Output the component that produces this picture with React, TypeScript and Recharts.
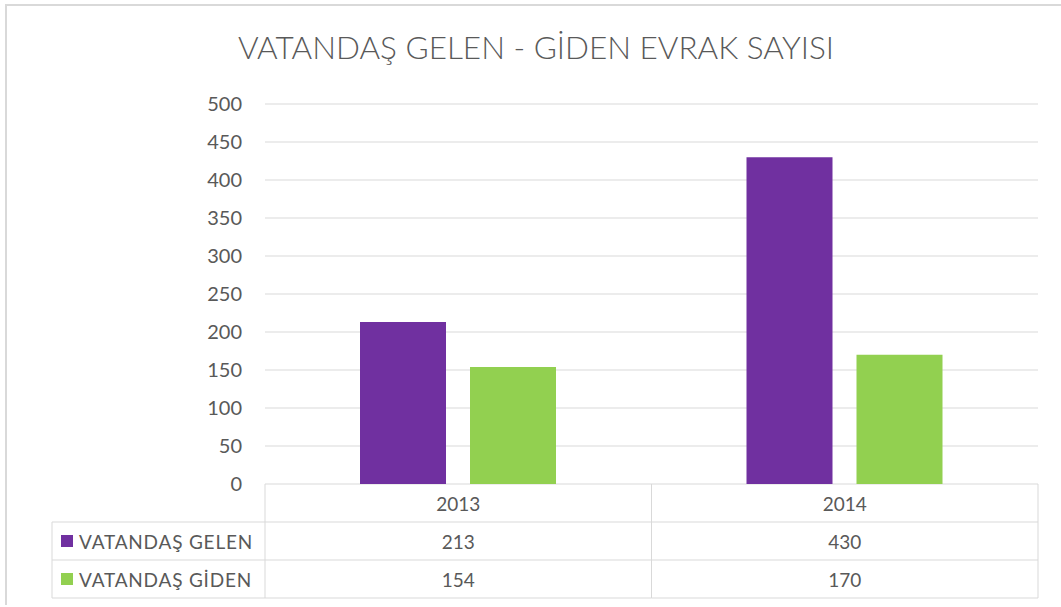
import React from "react";
import { BarChart, Bar, XAxis, YAxis, CartesianGrid } from "recharts";

const years = ["2013", "2014"];
const gelen = [213, 430];
const giden = [154, 170];
const yTicks = [0, 50, 100, 150, 200, 250, 300, 350, 400, 450, 500];

const seriesNames = ["VATANDAŞ GELEN", "VATANDAŞ GİDEN"];
const seriesColors = ["#7030A0", "#92D050"];

const data = years.map((year, i) => ({ year, gelen: gelen[i], giden: giden[i] }));

const W = 1061;
const H = 607;
const M = { top: 104, right: 23, bottom: 0, left: 0 };
const XAXIS_H = 123;
const AXIS_W = 265;
const PLOT_W = W - AXIS_W - M.right;
const PLOT_BOTTOM = H - XAXIS_H;
const ROW_H = 38;
const TABLE_LEFT = 52;
const FONT = "Lato, 'Open Sans', sans-serif";
const TEXT = "#595959";
const LINE = "#d9d9d9";

function TableTick(props: any) {
  const { x, payload, index } = props;
  const bw = PLOT_W / years.length;
  const left = x - bw / 2;
  const right = x + bw / 2;
  const y0 = PLOT_BOTTOM;
  const rows = [gelen, giden];
  return (
    <g fontFamily={FONT} fill={TEXT}>
      <line x1={left} x2={left} y1={y0} y2={y0 + ROW_H * 3} stroke={LINE} />
      <line x1={right} x2={right} y1={y0} y2={y0 + ROW_H * 3} stroke={LINE} />
      {[1, 2, 3].map((r) => (
        <line key={r} x1={left} x2={right} y1={y0 + ROW_H * r} y2={y0 + ROW_H * r} stroke={LINE} />
      ))}
      <text x={x} y={y0 + ROW_H / 2} textAnchor="middle" dominantBaseline="central" fontSize={19}>
        {payload.value}
      </text>
      {rows.map((vals, r) => (
        <text
          key={r}
          x={x}
          y={y0 + ROW_H * (r + 1) + ROW_H / 2}
          textAnchor="middle"
          dominantBaseline="central"
          fontSize={19}
        >
          {vals[index]}
        </text>
      ))}
      {index === 0 && (
        <g>
          <line x1={TABLE_LEFT} x2={left} y1={y0 + ROW_H} y2={y0 + ROW_H} stroke={LINE} />
          <line x1={TABLE_LEFT} x2={left} y1={y0 + ROW_H * 2} y2={y0 + ROW_H * 2} stroke={LINE} />
          <line x1={TABLE_LEFT} x2={left} y1={y0 + ROW_H * 3} y2={y0 + ROW_H * 3} stroke={LINE} />
          <line x1={TABLE_LEFT} x2={TABLE_LEFT} y1={y0 + ROW_H} y2={y0 + ROW_H * 3} stroke={LINE} />
          {seriesNames.map((name, r) => {
            const cy = y0 + ROW_H * (r + 1) + ROW_H / 2;
            return (
              <g key={name}>
                <rect x={61} y={cy - 6} width={12} height={12} fill={seriesColors[r]} />
                <text x={79} y={cy} dominantBaseline="central" fontSize={19} letterSpacing={0.8}>
                  {name}
                </text>
              </g>
            );
          })}
        </g>
      )}
    </g>
  );
}

export default function App() {
  return (
    <div style={{ position: "absolute", left: 0, top: 0, width: W, height: H, background: "#fff" }}>
      <div
        style={{
          position: "absolute",
          left: 5,
          top: 4,
          right: 0,
          bottom: 2,
          borderTop: `2px solid ${LINE}`,
          borderLeft: `2px solid ${LINE}`,
        }}
      />
      <div
        style={{
          position: "absolute",
          left: 0,
          width: 1072,
          top: 28,
          textAlign: "center",
          fontFamily: FONT,
          fontSize: 31.5,
          fontWeight: 300,
          color: TEXT,
          whiteSpace: "nowrap",
        }}
      >
        VATANDAŞ GELEN - GİDEN EVRAK SAYISI
      </div>
      <div style={{ position: "absolute", left: 0, top: 0 }}>
        <BarChart width={W} height={H} data={data} margin={M} barGap={24}>
          <CartesianGrid horizontal vertical={false} stroke={LINE} />
          <XAxis
            dataKey="year"
            height={XAXIS_H}
            axisLine={false}
            tickLine={false}
            interval={0}
            tick={<TableTick />}
          />
          <YAxis
            width={AXIS_W}
            domain={[0, 500]}
            ticks={yTicks}
            interval={0}
            axisLine={false}
            tickLine={false}
            tickSize={0}
            tickMargin={23}
            tick={{ fill: TEXT, fontSize: 20, fontFamily: FONT }}
          />
          <Bar dataKey="gelen" name={seriesNames[0]} fill={seriesColors[0]} barSize={86} isAnimationActive={false} />
          <Bar dataKey="giden" name={seriesNames[1]} fill={seriesColors[1]} barSize={86} isAnimationActive={false} />
        </BarChart>
      </div>
    </div>
  );
}
